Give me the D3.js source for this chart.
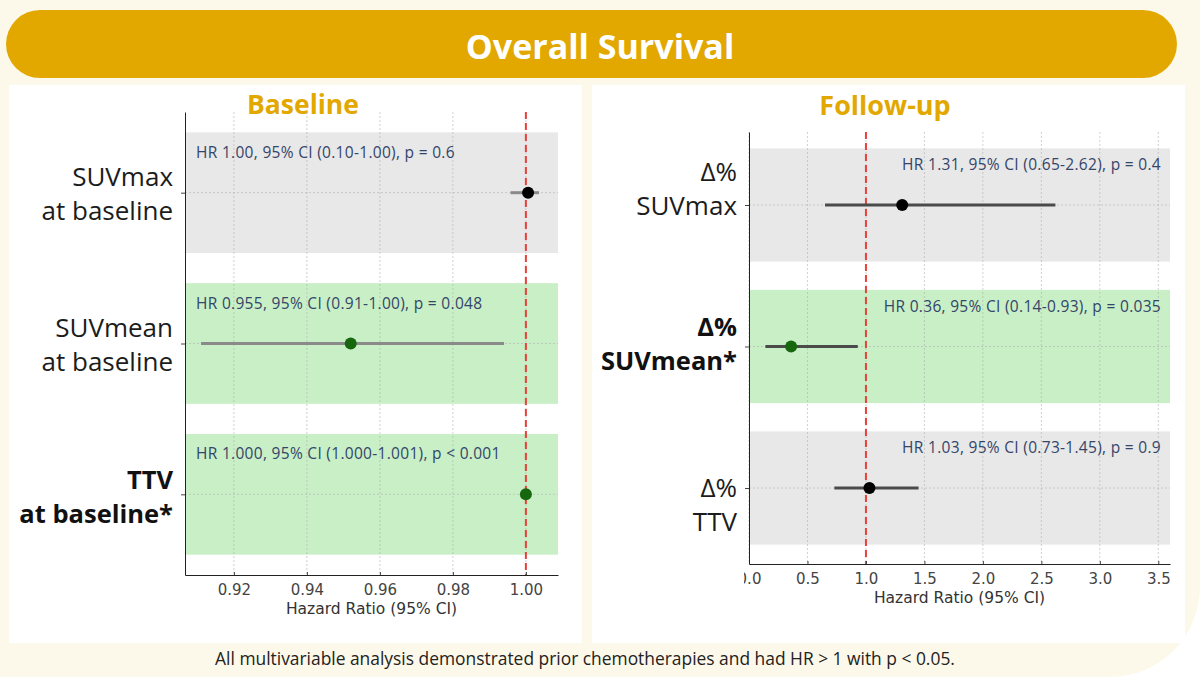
<!DOCTYPE html>
<html>
<head>
<meta charset="utf-8">
<script src="https://cdn.jsdelivr.net/npm/d3@7"></script>
<style>
  body { margin: 0; background: #ffffff; }
  svg { display: block; }
</style>
</head>
<body>
<div id="slide"></div>
<script>
// ---- data ----
const baselineLabels = [["SUVmax", "at baseline"], ["SUVmean", "at baseline"], ["TTV", "at baseline*"]]
const baselineHR = [1.0006, 0.952, 1.000]
const baselineLow = [0.9958, 0.911, 1.000]
const baselineHigh = [1.0036, 0.994, 1.001]
const baselineSignificant = [false, true, true]
const baselineNotes = [
    "HR 1.00, 95% CI (0.10-1.00), p = 0.6",
    "HR 0.955, 95% CI (0.91-1.00), p = 0.048",
    "HR 1.000, 95% CI (1.000-1.001), p < 0.001"
]
const baselineTicks = [0.92, 0.94, 0.96, 0.98, 1.00]

const followLabels = [["Δ%", "SUVmax"], ["Δ%", "SUVmean*"], ["Δ%", "TTV"]]
const followHR = [1.31, 0.36, 1.03]
const followLow = [0.65, 0.14, 0.73]
const followHigh = [2.62, 0.93, 1.45]
const followSignificant = [false, true, false]
const followNotes = [
    "HR 1.31, 95% CI (0.65-2.62), p = 0.4",
    "HR 0.36, 95% CI (0.14-0.93), p = 0.035",
    "HR 1.03, 95% CI (0.73-1.45), p = 0.9"
]
const followTicks = [0.0, 0.5, 1.0, 1.5, 2.0, 2.5, 3.0, 3.5]

const pageTitle = "Overall Survival"
const footNote = "All multivariable analysis demonstrated prior chemotherapies and had HR > 1 with p < 0.05."

// ---- canvas ----
const width = 1200
const height = 677
const gold = "#e2a800"

const svg = d3.select("#slide")
    .append("svg")
    .attr("width", width)
    .attr("height", height)

// cream slide with rounded bottom-right corner
svg.append("path")
    .attr("d", `M0,0 H${width} V587 A90,90 0 0 1 1110,${height} H0 Z`)
    .attr("fill", "#fdf9ea")

// title banner
svg.append("rect")
    .attr("x", 6).attr("y", 10)
    .attr("width", 1171).attr("height", 68)
    .attr("rx", 34)
    .attr("fill", gold)

svg.append("text")
    .attr("x", 600).attr("y", 46)
    .attr("text-anchor", "middle")
    .attr("dominant-baseline", "central")
    .attr("fill", "#ffffff")
    .style("font-family", "'Open Sans', sans-serif")
    .style("font-weight", "bold")
    .style("font-size", "34px")
    .text(pageTitle)

// white panels
svg.append("rect").attr("x", 9).attr("y", 85).attr("width", 573).attr("height", 558).attr("fill", "#ffffff")
svg.append("rect").attr("x", 592).attr("y", 85).attr("width", 593).attr("height", 558).attr("fill", "#ffffff")

svg.append("text")
    .attr("x", 585).attr("y", 658)
    .attr("text-anchor", "middle")
    .attr("dominant-baseline", "central")
    .attr("fill", "#222")
    .style("font-family", "'Open Sans', sans-serif")
    .style("font-size", "17.4px")
    .text(footNote)

// ---- one forest panel ----
function drawForest(cfg) {
    const rows = cfg.hr.map((d, i) => ({
        i,
        hr: d,
        lo: cfg.low[i],
        hi: cfg.high[i],
        sig: cfg.sig[i],
        label: cfg.labels[i],
        note: cfg.notes[i]
    }))

    const xScale = d3.scaleLinear()
        .domain(cfg.xDomain)
        .range([cfg.left, cfg.right])

    const yScale = d3.scaleLinear()
        .domain(cfg.yDomain)
        .range([cfg.top, cfg.bottom])

    const bandH = yScale(0.8) - yScale(0)
    const g = svg.append("g")

    // panel heading
    g.append("text")
        .attr("x", cfg.titleX).attr("y", 104)
        .attr("text-anchor", "middle")
        .attr("dominant-baseline", "central")
        .attr("fill", gold)
        .style("font-family", "'Open Sans', sans-serif")
        .style("font-weight", "bold")
        .style("font-size", cfg.titleSize + "px")
        .text(cfg.title)

    // shaded rows
    g.selectAll("rect.band")
        .data(rows).join("rect")
        .attr("class", "band")
        .attr("x", cfg.left)
        .attr("y", d => yScale(d.i) - bandH / 2)
        .attr("width", cfg.right - cfg.left)
        .attr("height", bandH)
        .attr("fill", d => d.sig ? "#c8efc5" : "#e8e8e8")

    // grid
    g.selectAll("line.vgrid")
        .data(cfg.ticks).join("line")
        .attr("class", "vgrid")
        .attr("x1", d => xScale(d)).attr("x2", d => xScale(d))
        .attr("y1", cfg.top).attr("y2", cfg.bottom)
        .attr("stroke", "#b0b0b0")
        .attr("stroke-opacity", 0.6)
        .attr("stroke-dasharray", "2,2")
    g.selectAll("line.hgrid")
        .data(rows).join("line")
        .attr("class", "hgrid")
        .attr("x1", cfg.left).attr("x2", cfg.right)
        .attr("y1", d => yScale(d.i)).attr("y2", d => yScale(d.i))
        .attr("stroke", "#b0b0b0")
        .attr("stroke-opacity", 0.6)
        .attr("stroke-dasharray", "2,2")

    // reference line at HR = 1
    g.append("line")
        .attr("x1", xScale(1)).attr("x2", xScale(1))
        .attr("y1", cfg.top).attr("y2", cfg.bottom)
        .attr("stroke", "#e8403a")
        .attr("stroke-width", 2)
        .attr("stroke-dasharray", "7,4")

    // confidence intervals + points
    g.selectAll("line.ci")
        .data(rows).join("line")
        .attr("class", "ci")
        .attr("x1", d => xScale(d.lo)).attr("x2", d => xScale(d.hi))
        .attr("y1", d => yScale(d.i)).attr("y2", d => yScale(d.i))
        .attr("stroke", cfg.ciColor)
        .attr("stroke-width", 3)
    g.selectAll("circle")
        .data(rows).join("circle")
        .attr("cx", d => xScale(d.hr))
        .attr("cy", d => yScale(d.i))
        .attr("r", 6)
        .attr("fill", d => d.sig ? "#17670f" : "#000000")

    // annotations
    g.selectAll("text.note")
        .data(rows).join("text")
        .attr("class", "note")
        .attr("x", cfg.noteAnchor === "start" ? cfg.left + 11 : cfg.right - 9)
        .attr("y", d => yScale(d.i) - 41)
        .attr("text-anchor", cfg.noteAnchor)
        .attr("dominant-baseline", "central")
        .attr("fill", "#34456a")
        .style("font-family", "'Open Sans', sans-serif")
        .style("font-size", "15.5px")
        .style("letter-spacing", "0.3px")
        .text(d => d.note)

    // category labels
    rows.forEach(d => {
        const shift = cfg.labelShift[d.i]
        const bold = cfg.boldRows[d.i]
        d.label.forEach((line, k) => {
            g.append("text")
                .attr("x", cfg.labelX)
                .attr("y", yScale(d.i) + shift + (k === 0 ? -17 : 17))
                .attr("text-anchor", "end")
                .attr("dominant-baseline", "central")
                .attr("fill", bold ? "#111" : "#1c1c1c")
                .style("font-family", "'Open Sans', sans-serif")
                .style("font-weight", bold ? "bold" : "400")
                .style("font-size", bold ? "25.5px" : "26px")
                .text(line)
        })
    })

    // axes
    const xAxisGenerator = d3.axisBottom(xScale)
        .tickValues(cfg.ticks)
        .tickFormat(d3.format(cfg.tickFormat))
        .tickSizeInner(-3)
        .tickSizeOuter(0)
        .tickPadding(9)
    const xAxis = g.append("g")
        .attr("transform", `translate(0,${cfg.bottom})`)
        .call(xAxisGenerator)
    xAxis.select(".domain").attr("stroke", "#222")
    xAxis.selectAll(".tick line").attr("stroke", "#444")
    xAxis.selectAll(".tick text")
        .attr("fill", "#444")
        .style("font-family", "'DejaVu Sans', sans-serif")
        .style("font-size", "15px")

    if (cfg.clipTicks) {
        // the source picture is cropped just left of the axis
        const clipId = "clip-" + cfg.title.replace(/\W/g, "")
        svg.append("clipPath").attr("id", clipId)
            .append("rect")
            .attr("x", cfg.left - 5).attr("y", -10)
            .attr("width", cfg.right - cfg.left + 40).attr("height", 50)
        xAxis.attr("clip-path", `url(#${clipId})`)
    }

    g.append("text")
        .attr("x", (cfg.left + cfg.right) / 2)
        .attr("y", cfg.bottom + 34)
        .attr("text-anchor", "middle")
        .attr("dominant-baseline", "central")
        .attr("fill", "#333")
        .style("font-family", "'DejaVu Sans', sans-serif")
        .style("font-size", "15.5px")
        .text("Hazard Ratio (95% CI)")

    const yAxisGenerator = d3.axisLeft(yScale)
        .tickValues(rows.map(d => d.i))
        .tickFormat("")
        .tickSizeInner(4)
        .tickSizeOuter(0)
    const yAxis = g.append("g")
        .attr("transform", `translate(${cfg.left},0)`)
        .call(yAxisGenerator)
    yAxis.select(".domain").attr("stroke", "#222")
    yAxis.selectAll(".tick line").attr("stroke", "#444")
}

drawForest({
    title: "Baseline",
    titleX: 303,
    titleSize: 26.5,
    labels: baselineLabels,
    hr: baselineHR,
    low: baselineLow,
    high: baselineHigh,
    sig: baselineSignificant,
    notes: baselineNotes,
    ticks: baselineTicks,
    tickFormat: ".2f",
    xDomain: [0.9066, 1.0088],
    yDomain: [-0.535, 2.535],
    left: 185, right: 558, top: 112, bottom: 575,
    labelX: 173,
    labelShift: [0, 0, 2],
    boldRows: [false, false, true],
    noteAnchor: "start",
    ciColor: "#8a8a8a",
    clipTicks: false
})

drawForest({
    title: "Follow-up",
    titleX: 885,
    titleSize: 27,
    labels: followLabels,
    hr: followHR,
    low: followLow,
    high: followHigh,
    sig: followSignificant,
    notes: followNotes,
    ticks: followTicks,
    tickFormat: ".1f",
    xDomain: [0.0, 3.6],
    yDomain: [-0.516, 2.537],
    left: 749, right: 1170, top: 132, bottom: 564,
    labelX: 737,
    labelShift: [-17, -4, 16],
    boldRows: [false, true, false],
    noteAnchor: "end",
    ciColor: "#4a4a4a",
    clipTicks: true
})
</script>
</body>
</html>
